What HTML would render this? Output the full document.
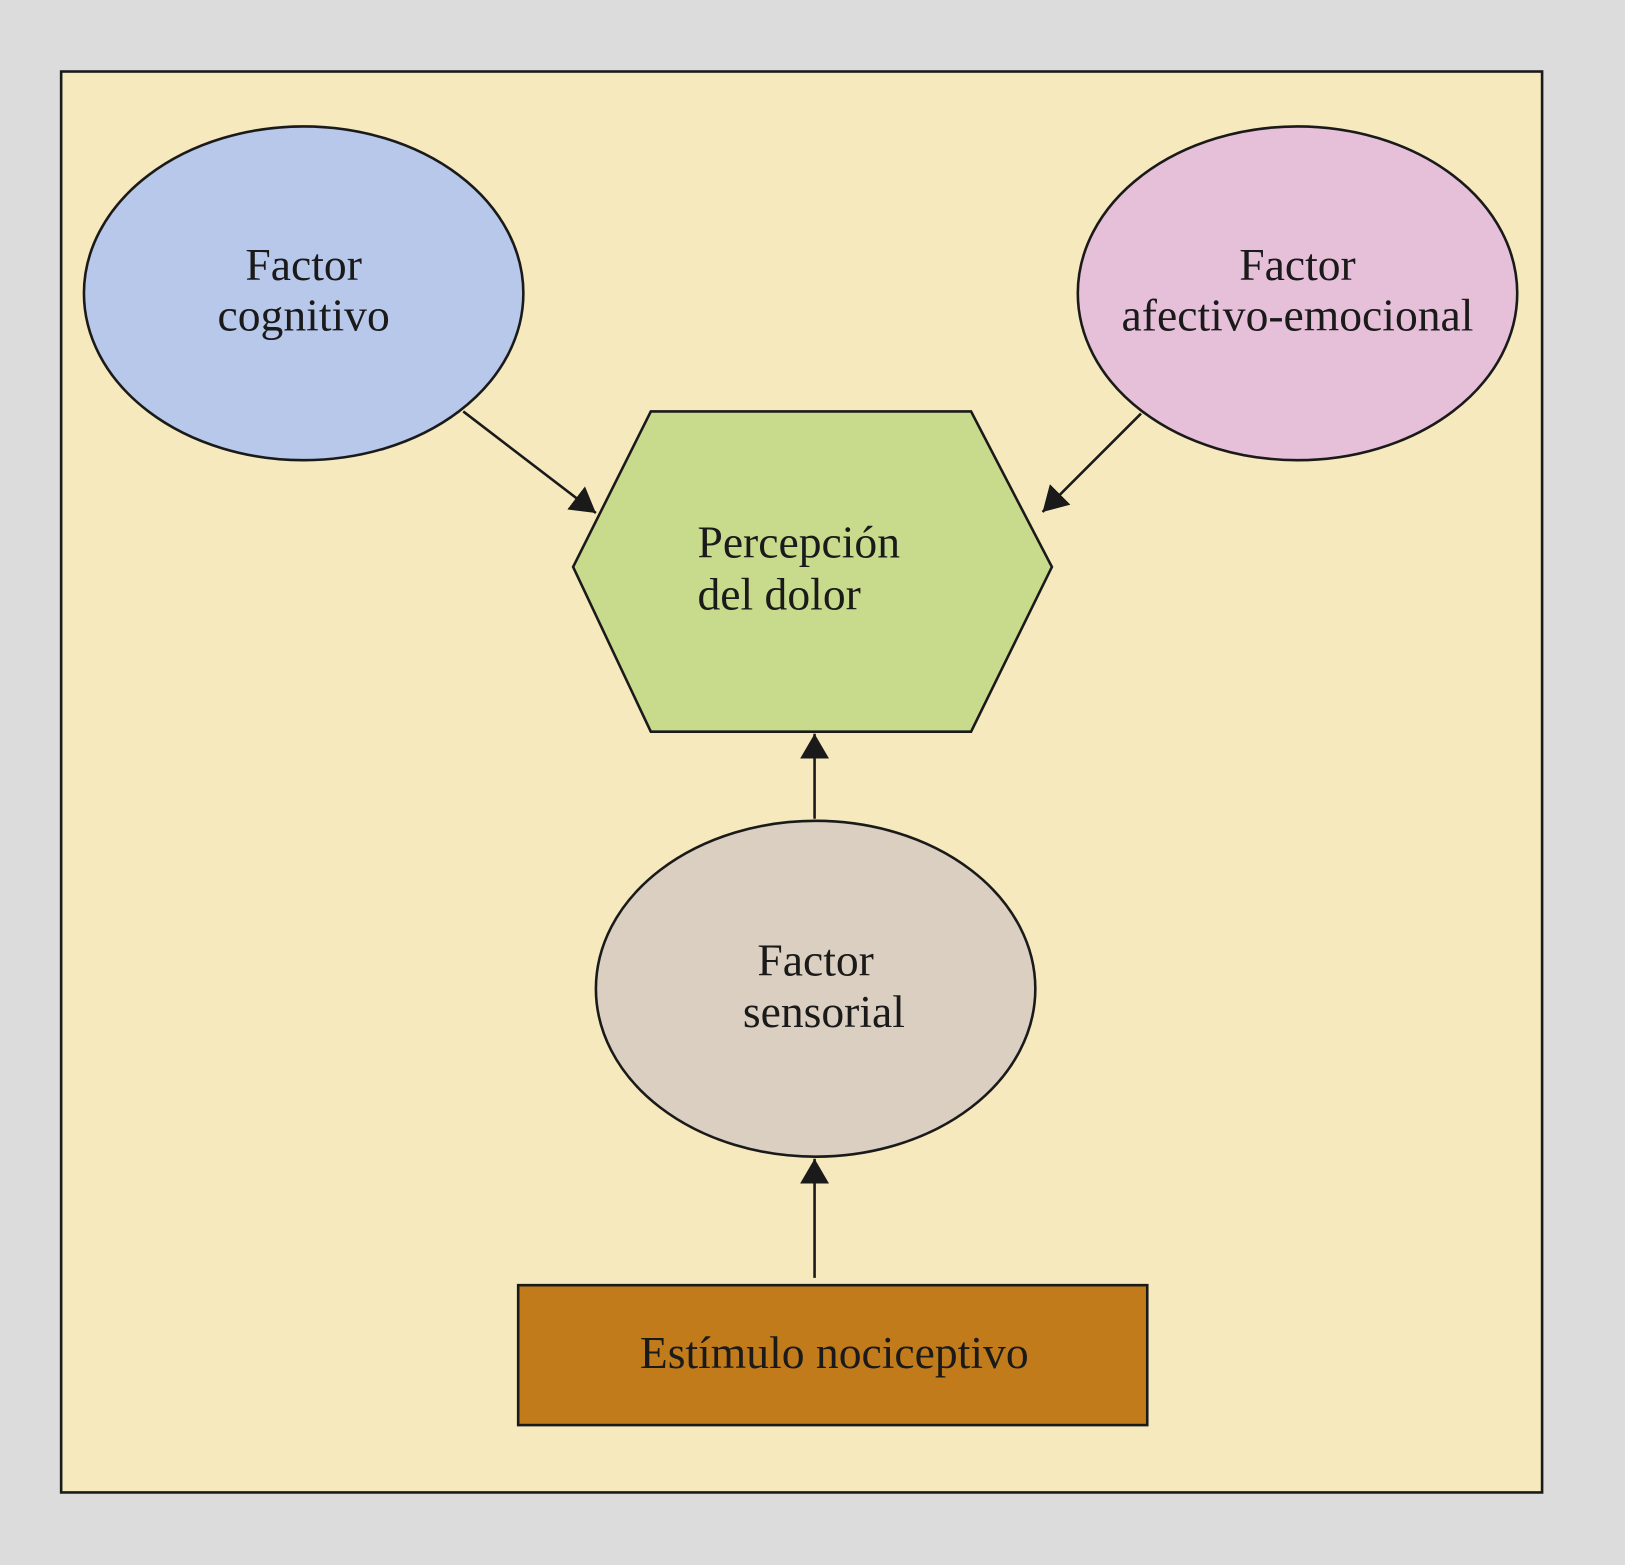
<!DOCTYPE html>
<html><head><meta charset="utf-8"><style>html,body{margin:0;padding:0;background:#dcdcdc}svg{display:block}</style></head>
<body>
<svg width="1625" height="1565" viewBox="0 0 1568 1510" preserveAspectRatio="none" xmlns="http://www.w3.org/2000/svg">
<defs><marker id="a" markerWidth="10" markerHeight="10" refX="9" refY="5" orient="auto" markerUnits="userSpaceOnUse" viewBox="0 0 10 10"><path d="M0,0 L10,5 L0,10 z" fill="#1a1a1a"/></marker>
<marker id="b" markerWidth="24" markerHeight="28" refX="24" refY="14" orient="auto" markerUnits="userSpaceOnUse"><path d="M0,0 L24,14 L0,28 z" fill="#1a1a1a"/></marker></defs>
<rect x="0" y="0" width="1568" height="1510" fill="#dcdcdc"/>
<rect x="59" y="69" width="1429" height="1371" fill="#f6e9bd" stroke="#1a1a1a" stroke-width="2.5"/>
<g stroke="#1a1a1a" stroke-width="2.5">
<ellipse cx="293" cy="283" rx="212" ry="161" fill="#b8c8ea"/>
<ellipse cx="1252" cy="283" rx="212" ry="161" fill="#e6c0d9"/>
<polygon points="553,547 628,397 937,397 1015,547 937,706 628,706" fill="#c8da8c"/>
<ellipse cx="787" cy="954" rx="212" ry="162" fill="#dacfc0"/>
<rect x="500" y="1240" width="607" height="135" fill="#c27b1a"/>
<line x1="447" y1="397" x2="575" y2="495" marker-end="url(#b)"/>
<line x1="1101" y1="399" x2="1006" y2="494" marker-end="url(#b)"/>
<line x1="786" y1="790" x2="786" y2="708" marker-end="url(#b)"/>
<line x1="786" y1="1233" x2="786" y2="1118" marker-end="url(#b)"/>
</g>
<g font-family="Liberation Serif, serif" font-size="44" fill="#1a1a1a">
<text x="293" y="270" text-anchor="middle">Factor</text>
<text x="293" y="319" text-anchor="middle">cognitivo</text>
<text x="1252" y="270" text-anchor="middle">Factor</text>
<text x="1252" y="319" text-anchor="middle">afectivo-emocional</text>
<text x="673" y="538">Percepción</text>
<text x="673" y="588">del dolor</text>
<text x="787" y="941" text-anchor="middle">Factor</text>
<text x="795" y="991" text-anchor="middle">sensorial</text>
<text x="805" y="1320" text-anchor="middle">Estímulo nociceptivo</text>
</g>
</svg>
</body></html>
